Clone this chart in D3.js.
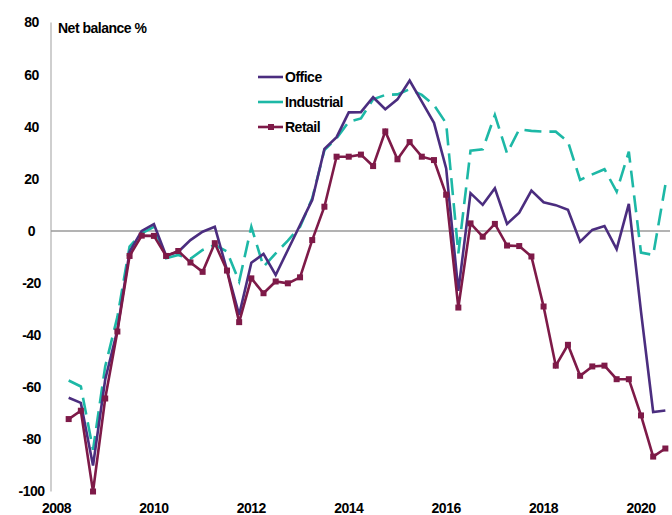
<!DOCTYPE html>
<html>
<head>
<meta charset="utf-8">
<script src="https://cdn.jsdelivr.net/npm/d3@7"></script>
<style>
	body { margin: 0; background: #fff; }
	text { font-family: "Liberation Sans", Arial, sans-serif; font-weight: bold; fill: #000; }
</style>
</head>
<body>
<svg width="672" height="515"></svg>
<script>

// Quarterly data, Q2 2008 to Q3 2020
var startYear = 2008.25;
var office = [-64, -66, -90, -57, -38, -8, 0, 2.6, -9.5, -8, -3.5, -0.3, 1.6, -15, -32.2, -12.2, -8.8, -16.9,
	-7.3, 2.3, 11.9, 31.5, 36, 45.5, 45.6, 51.3, 46.7, 50.5, 57.7, 49.6, 41.5, 24, -23, 14.5, 10, 16.4,
	2.7, 7, 15.5, 11, 9.9, 8.1, -4.1, 0.4, 1.9, -7, 10.4, -31, -69.5, -68.9];
var industrial = [-57.4, -59.7, -84, -52, -33, -6, -0.9, 1.6, -10.5, -9.2, -10.7, -7.3, -5.4, -7.9, -19.4, 1.6,
	-13.7, -8.6, -3.7, 1.6, 12.5, 31, 35.6, 41.9, 43.2, 50.5, 52.2, 52.4, 54.4, 52.2, 48.3, 41.3, -8.6,
	30.8, 31.3, 44.5, 29.8, 39, 38.4, 38.1, 38.1, 34.3, 19.6, 21.7, 23.7, 15.1, 30.4, -8.3, -9.2, 17.6];
var retail = [-72.2, -69, -100, -64.3, -38.6, -9.6, -1.8, -1.9, -9.6, -7.7, -12.1, -15.7, -4.7, -15.2, -35,
	-18.2, -23.9, -19.4, -20.1, -17.8, -3.5, 9.3, 28.5, 28.5, 29.3, 24.9, 38.2, 27.5, 34.1, 28.5, 27.2,
	13.9, -29.4, 2.9, -2.2, 2.7, -5.6, -5.8, -9.8, -29, -51.7, -43.7, -55.6, -52, -51.7, -56.9, -56.9,
	-70.8, -86.6, -83.5];

var yTicks = [80, 60, 40, 20, 0, -20, -40, -60, -80, -100];
var xTicks = [2008, 2010, 2012, 2014, 2016, 2018, 2020];
var seriesNames = ["Office", "Industrial", "Retail"];
var seriesColors = ["#4b2d7f", "#1db8a6", "#7e1a48"];

var svg = d3.select("svg");

var xScale = d3.scaleLinear().domain([2008, 2020]).range([56.5, 641]),
	yScale = d3.scaleLinear().domain([-100, 80]).range([491.5, 22.5]);

var quarter = (d, i) => startYear + 0.25 * i;

// axes: y line on the left, zero line across
svg.append("line")
	.attr("x1", 51).attr("x2", 51)
	.attr("y1", yScale(80)).attr("y2", yScale(-100))
	.attr("stroke", "#bfbfbf").attr("stroke-width", 1.5);

svg.append("line")
	.attr("x1", 51).attr("x2", 670)
	.attr("y1", yScale(0)).attr("y2", yScale(0))
	.attr("stroke", "#9a9a9a").attr("stroke-width", 1.5);

svg.selectAll(".ylab")
	.data(yTicks)
	.enter().append("text")
	.attr("class", "ylab")
	.attr("x", 31.5)
	.attr("y", d => yScale(d))
	.attr("dy", "0.35em")
	.attr("text-anchor", "middle")
	.style("font-size", "14px")
	.style("letter-spacing", "-0.5px")
	.text(d => d);

svg.selectAll(".xlab")
	.data(xTicks)
	.enter().append("text")
	.attr("class", "xlab")
	.attr("x", d => xScale(d))
	.attr("y", 513)
	.attr("text-anchor", "middle")
	.style("font-size", "14px")
	.style("letter-spacing", "-0.5px")
	.text(d => d);

svg.append("text")
	.attr("x", 58).attr("y", 33)
	.style("font-size", "14px")
	.style("letter-spacing", "-0.5px")
	.text("Net balance %");

var line = d3.line()
	.x((d, i) => xScale(quarter(d, i)))
	.y(d => yScale(d));

// lines
svg.append("path")
	.datum(industrial)
	.attr("fill", "none")
	.attr("stroke", seriesColors[1])
	.attr("stroke-width", 2.6)
	.attr("stroke-dasharray", "17,8")
	.attr("d", line);

svg.append("path")
	.datum(office)
	.attr("fill", "none")
	.attr("stroke", seriesColors[0])
	.attr("stroke-width", 2.6)
	.attr("stroke-linejoin", "miter")
	.attr("d", line);

svg.append("path")
	.datum(retail)
	.attr("fill", "none")
	.attr("stroke", seriesColors[2])
	.attr("stroke-width", 2.6)
	.attr("d", line);

svg.selectAll(".marker")
	.data(retail)
	.enter().append("rect")
	.attr("class", "marker")
	.attr("x", (d, i) => xScale(quarter(d, i)) - 3)
	.attr("y", d => yScale(d) - 3)
	.attr("width", 6)
	.attr("height", 6)
	.attr("fill", seriesColors[2]);

// legend
var legend = svg.selectAll(".legend")
	.data(seriesNames)
	.enter().append("g")
	.attr("class", "legend")
	.attr("transform", (d, i) => "translate(258," + (77 + 25 * i) + ")");

legend.append("line")
	.attr("x1", 0).attr("x2", 25)
	.attr("stroke", (d, i) => seriesColors[i])
	.attr("stroke-width", 2.6);

legend.filter(d => d == "Retail").append("rect")
	.attr("x", 10).attr("y", -3)
	.attr("width", 6).attr("height", 6)
	.attr("fill", seriesColors[2]);

legend.append("text")
	.attr("x", 27)
	.attr("dy", "0.35em")
	.style("font-size", "14px")
	.style("letter-spacing", "-0.5px")
	.text(d => d);

</script>
</body>
</html>
